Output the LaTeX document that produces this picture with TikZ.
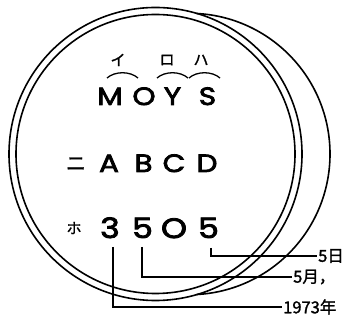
\documentclass[tikz,border=0pt]{standalone}
\usepackage{fontspec}
\setmainfont{Poppins}
\newfontfamily\geo{Poppins}[FakeStretch=1.18,FakeBold=3]
\newfontfamily\jfont{Noto Sans CJK JP}
\newfontfamily\jbold{Noto Sans CJK JP}[FakeBold=1.5]
\begin{document}
\begin{tikzpicture}[x=1pt,y=1pt,
  ring/.style={line width=1.6pt},
  bigch/.style={anchor=base,inner sep=0pt,font=\geo\fontsize{25}{25}\selectfont},
  digit/.style={anchor=base,inner sep=0pt,font=\geo\fontsize{28}{28}\selectfont},
  kana/.style={inner sep=0pt,font=\jbold\fontsize{15}{15}\selectfont},
  lab/.style={anchor=west,inner sep=1pt,font=\jbold\fontsize{16.5}{16.5}\selectfont},
  lead/.style={line width=1.3pt},
  brace/.style={line width=1.3pt}]
\useasboundingbox (0,0) rectangle (344,320);
\fill[white] (0,0) rectangle (344,320);
% rings
\draw[ring] (155.5,166) circle[radius=146.5pt];
\draw[ring] (155.5,166) circle[radius=139.5pt];
\draw[ring] (189.3,166) ++(87:140.7pt) arc[start angle=87,end angle=-87,radius=140.7pt];
% kana
\node[kana] (ki) at (118,260) {イ};
\node[kana] (kro) at (167,260) {ロ};
\node[kana] (kha) at (201,260) {ハ};
\draw[brace] (107,242) .. controls (115,249) and (130,249) .. (138,242);
\draw[brace] (157,242) .. controls (165,249) and (180,249) .. (188,242);
\draw[brace] (189,242) .. controls (197,249) and (212,249) .. (220,242);
% MOYS
\node[bigch] (m) at (110,215) {M};
\node[bigch] (o) at (144,215) {O};
\node[bigch] (y) at (172.5,215) {Y};
\node[bigch] (s) at (207.5,215) {S};
% ni ABCD
\node[inner sep=0pt,font=\jbold\fontsize{20}{20}\selectfont] (ni) at (76,156) {ニ};
\node[bigch] (a) at (109,148) {A};
\node[bigch] (b) at (143.5,148) {B};
\node[bigch] (c) at (174,148) {C};
\node[bigch] (d) at (207,148) {D};
% ho 3505
\node[inner sep=0pt,font=\jbold\fontsize{15}{15}\selectfont] (ho) at (74,92) {ホ};
\node[digit] (n1) at (110,82) {3};
\node[digit] (n2) at (142.5,82) {5};
\node[digit] (n3) at (174,82) {O};
\node[digit] (n4) at (208.5,82) {5};
% labels
\node[lab] (ly) at (282,13) {1973年};
\node[lab] (lm) at (292,43) {5月，};
\node[lab] (ld) at (317,64) {5日};
\coordinate (c1) at (113,73);
\coordinate (c2) at (142,73);
\coordinate (c3) at (211,72);
\draw[lead] (c1) |- (ly.west);
\draw[lead] (c2) |- (lm.west);
\draw[lead] (c3) |- (ld.west);
\end{tikzpicture}
\end{document}
